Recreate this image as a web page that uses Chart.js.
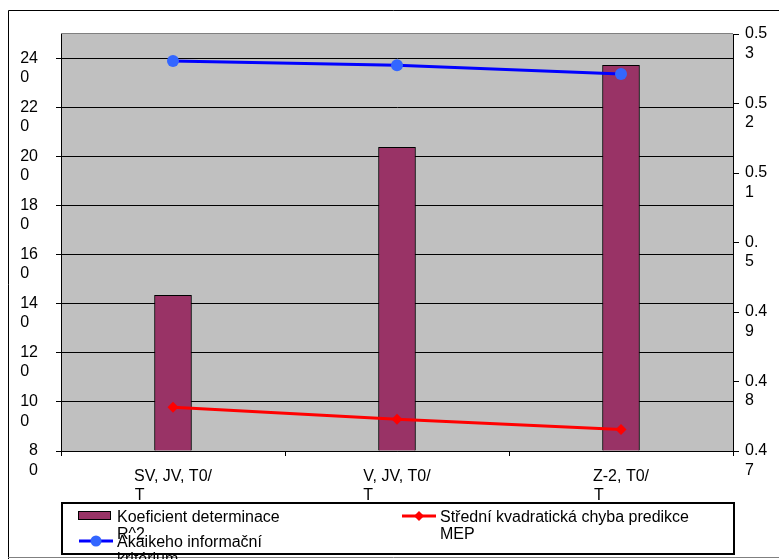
<!DOCTYPE html>
<html>
<head>
<meta charset="utf-8">
<script src="https://cdn.jsdelivr.net/npm/chart.js@4/dist/chart.umd.min.js"></script>
<style>
    html, body { margin: 0; padding: 0; background: #fff; }
    canvas { display: block; }
</style>
</head>
<body>
<canvas id="modelChart" width="779" height="559"></canvas>
<script>
// Porovnání modelů: R^2 jako sloupce (pravá osa), AIC a MEP jako čáry (levá osa)

const categories = [
    ['SV, JV, T0/', 'T'],
    ['V, JV, T0/', 'T'],
    ['Z-2, T0/', 'T']
];
const seriesNames = [
    'Koeficient determinace R^2',
    'Akaikeho informační kritérium',
    'Střední kvadratická chyba predikce MEP'
];
const r2Values = [0.4924, 0.5137, 0.5255];
const aicValues = [239.0, 237.3, 233.7];
const mepValues = [97.8, 92.9, 88.8];

const leftTicks = [80, 100, 120, 140, 160, 180, 200, 220, 240];
const leftTickLabels = [
    ['8', '0'], ['10', '0'], ['12', '0'], ['14', '0'], ['16', '0'],
    ['18', '0'], ['20', '0'], ['22', '0'], ['24', '0']
];
const leftMax = 250;
const rightTicks = [0.47, 0.48, 0.49, 0.5, 0.51, 0.52, 0.53];
const rightTickLabels = [
    ['0.4', '7'], ['0.4', '8'], ['0.4', '9'], ['0.', '5'],
    ['0.5', '1'], ['0.5', '2'], ['0.5', '3']
];

const FONT_FAMILY = '"Liberation Sans", Arial, sans-serif';
const FONT_SIZE = 16;
const LINE_HEIGHT = 1.2;

// pad lines with trailing spaces so a wrapped label reads left-aligned
const measureCtx = document.createElement('canvas').getContext('2d');
measureCtx.font = FONT_SIZE + 'px ' + FONT_FAMILY;
function alignLines(lines) {
    const w = Math.max(...lines.map(l => measureCtx.measureText(l).width));
    const sp = measureCtx.measureText(' ').width;
    return lines.map(l => {
        let s = l;
        while (measureCtx.measureText(s).width + sp / 2 < w) s += ' ';
        return s;
    });
}

// grey plot area and the outer frame
const plotFrame = {
    id: 'plotFrame',
    beforeDraw(chart) {
        const { ctx, chartArea: a } = chart;
        ctx.save();
        ctx.fillStyle = '#fff';
        ctx.fillRect(0, 0, chart.width, chart.height);
        ctx.lineWidth = 1;
        ctx.strokeStyle = '#000';
        ctx.beginPath();
        ctx.moveTo(8.5, chart.height);
        ctx.lineTo(8.5, 10.5);
        ctx.lineTo(chart.width, 10.5);
        ctx.stroke();
        ctx.strokeStyle = '#808080';
        ctx.beginPath();
        ctx.moveTo(8, 557.5);
        ctx.lineTo(chart.width, 557.5);
        ctx.stroke();
        ctx.fillStyle = '#c0c0c0';
        ctx.fillRect(a.left, a.top, a.right - a.left, a.bottom - a.top);
        ctx.beginPath();
        ctx.moveTo(a.left, a.top - 0.5);
        ctx.lineTo(a.right, a.top - 0.5);
        ctx.stroke();
        ctx.restore();
    }
};

// boxed legend below the axis, two columns
const boxLegend = {
    id: 'boxLegend',
    afterDraw(chart) {
        const ctx = chart.ctx;
        const box = { left: 61, top: 502, right: 735, bottom: 555 };
        const slots = [
            { x: 78, y: 516, maxWidth: 180 },
            { x: 78, y: 541, maxWidth: 180 },
            { x: 401, y: 516, maxWidth: 270 }
        ];
        ctx.save();
        ctx.fillStyle = '#fff';
        ctx.fillRect(box.left, box.top, box.right - box.left, box.bottom - box.top);
        ctx.lineWidth = 2;
        ctx.strokeStyle = '#000';
        ctx.strokeRect(box.left + 1, box.top + 1, box.right - box.left - 2, box.bottom - box.top - 2);

        ctx.font = FONT_SIZE + 'px ' + FONT_FAMILY;
        ctx.textAlign = 'left';
        ctx.textBaseline = 'alphabetic';

        chart.data.datasets.forEach((ds, i) => {
            const s = slots[i];
            if (ds.type === 'bar') {
                ctx.fillStyle = ds.backgroundColor;
                ctx.fillRect(s.x, s.y - 5, 33, 9);
                ctx.lineWidth = 1;
                ctx.strokeStyle = '#000';
                ctx.strokeRect(s.x + 0.5, s.y - 4.5, 32, 8);
            } else {
                ctx.lineWidth = 3;
                ctx.strokeStyle = ds.borderColor;
                ctx.beginPath();
                ctx.moveTo(s.x + 1, s.y);
                ctx.lineTo(s.x + 35, s.y);
                ctx.stroke();
                const cx = s.x + 18;
                ctx.fillStyle = ds.pointBackgroundColor;
                ctx.beginPath();
                if (ds.pointStyle === 'rectRot') {
                    const r = 5;
                    ctx.moveTo(cx - r, s.y);
                    ctx.lineTo(cx, s.y - r);
                    ctx.lineTo(cx + r, s.y);
                    ctx.lineTo(cx, s.y + r);
                    ctx.closePath();
                } else {
                    ctx.arc(cx, s.y, 5.5, 0, Math.PI * 2);
                }
                ctx.fill();
            }

            // simple word wrap
            const words = ds.label.split(' ');
            const lines = [];
            let cur = '';
            words.forEach(w => {
                const test = cur ? cur + ' ' + w : w;
                if (cur && ctx.measureText(test).width > s.maxWidth) {
                    lines.push(cur);
                    cur = w;
                } else {
                    cur = test;
                }
            });
            lines.push(cur);
            ctx.fillStyle = '#000';
            lines.forEach((line, k) => {
                ctx.fillText(line, s.x + 39, s.y + 6 + k * 17);
            });
        });
        ctx.restore();
    }
};

Chart.defaults.font.family = FONT_FAMILY;
Chart.defaults.font.size = FONT_SIZE;
Chart.defaults.font.lineHeight = LINE_HEIGHT;
Chart.defaults.color = '#000';

new Chart(document.getElementById('modelChart'), {
    data: {
        labels: categories,
        datasets: [
            {
                type: 'bar',
                label: seriesNames[0],
                data: r2Values,
                yAxisID: 'yRight',
                base: rightTicks[0],
                backgroundColor: '#993366',
                borderColor: '#000',
                borderWidth: 1,
                barThickness: 37,
                order: 3
            },
            {
                type: 'line',
                label: seriesNames[1],
                data: aicValues,
                yAxisID: 'yLeft',
                borderColor: '#0000ff',
                borderWidth: 3,
                pointStyle: 'circle',
                pointRadius: 6,
                pointBackgroundColor: '#3366ff',
                pointBorderColor: '#3366ff',
                pointBorderWidth: 0,
                tension: 0,
                order: 1
            },
            {
                type: 'line',
                label: seriesNames[2],
                data: mepValues,
                yAxisID: 'yLeft',
                borderColor: '#ff0000',
                borderWidth: 3,
                pointStyle: 'rectRot',
                pointRadius: 5.5,
                pointBackgroundColor: '#ff0000',
                pointBorderColor: '#ff0000',
                pointBorderWidth: 0,
                tension: 0,
                order: 2
            }
        ]
    },
    options: {
        responsive: false,
        animation: false,
        layout: { padding: { top: 34, left: 0, right: 0, bottom: 0 } },
        plugins: {
            legend: { display: false },
            tooltip: { enabled: false }
        },
        scales: {
            x: {
                type: 'category',
                offset: true,
                grid: { offset: true, drawOnChartArea: false, color: '#000', tickLength: 5 },
                border: { color: '#000', width: 1 },
                ticks: {
                    autoSkip: false,
                    maxRotation: 0,
                    padding: 11,
                    callback: (v, i) => alignLines(categories[i])
                },
                afterFit(scale) {
                    scale.height = 108;
                    scale.paddingLeft = 0;
                    scale.paddingRight = 0;
                }
            },
            yLeft: {
                type: 'linear',
                position: 'left',
                min: leftTicks[0],
                max: leftMax,
                afterBuildTicks(scale) {
                    scale.ticks = leftTicks.map(v => ({ value: v }));
                },
                grid: { color: '#000', tickLength: 5 },
                border: { color: '#000', width: 1 },
                ticks: {
                    autoSkip: false,
                    padding: 18,
                    callback: (v, i) => ['', ...alignLines(leftTickLabels[i])]
                },
                afterFit(scale) {
                    scale.width = 61;
                    scale.paddingTop = 0;
                    scale.paddingBottom = 0;
                }
            },
            yRight: {
                type: 'linear',
                position: 'right',
                min: rightTicks[0],
                max: rightTicks[rightTicks.length - 1],
                afterBuildTicks(scale) {
                    scale.ticks = rightTicks.map(v => ({ value: v }));
                },
                grid: { drawOnChartArea: false, color: '#000', tickLength: 6 },
                border: { color: '#000', width: 1 },
                ticks: {
                    autoSkip: false,
                    padding: 6,
                    callback: (v, i) => ['', ...rightTickLabels[i]]
                },
                afterFit(scale) {
                    scale.width = 46;
                    scale.paddingTop = 0;
                    scale.paddingBottom = 0;
                }
            }
        }
    },
    plugins: [plotFrame, boxLegend]
});
</script>
</body>
</html>
